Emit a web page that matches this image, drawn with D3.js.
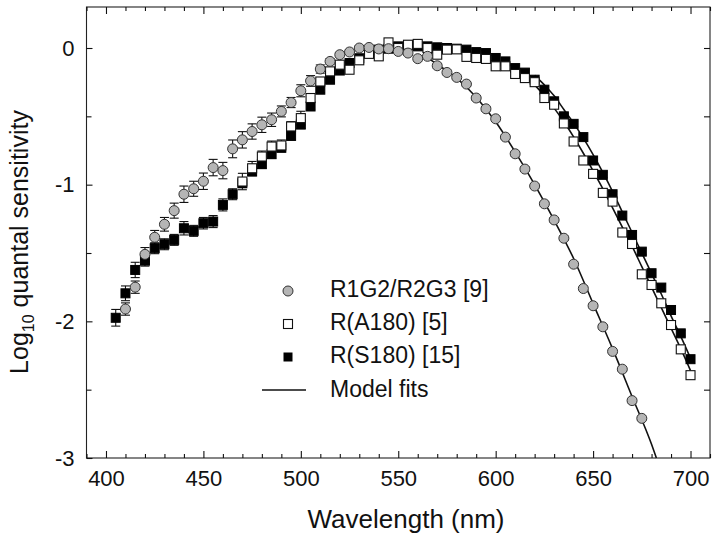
<!DOCTYPE html>
<html>
<head>
<meta charset="utf-8">
<script src="https://cdn.jsdelivr.net/npm/d3@7"></script>
<style>
  html, body { margin: 0; padding: 0; background: #fff; }
  svg { display: block; font-family: "Liberation Sans", Arial, Helvetica, sans-serif; }
</style>
</head>
<body>
<svg id="chart" width="720" height="543"></svg>
<script>
// ---------- DATA ----------
const circleWl = [410,415,420,425,430,435,440,445,450,455,460,465,470,475,480,485,490,495,500,505,510,515,520,525,530,535,540,545,550,555,560,565,570,575,580,585,590,595,600,605,610,615,620,625,630,635,640,645,650,655,660,665,670,675];
const circleVal = [-1.91,-1.75,-1.51,-1.385,-1.29,-1.19,-1.07,-1.03,-0.975,-0.875,-0.897,-0.738,-0.672,-0.611,-0.562,-0.525,-0.464,-0.399,-0.313,-0.241,-0.154,-0.098,-0.049,-0.029,0.0,0.004,-0.007,-0.005,-0.025,-0.037,-0.078,-0.061,-0.13,-0.179,-0.215,-0.264,-0.366,-0.445,-0.518,-0.652,-0.774,-0.886,-1.01,-1.14,-1.258,-1.392,-1.582,-1.76,-1.886,-2.04,-2.22,-2.35,-2.58,-2.71];
const circleErr = [0.045,0.045,0.05,0.05,0.05,0.055,0.06,0.055,0.06,0.06,0.06,0.065,0.06,0.056,0.056,0.049,0.04,0.037,0.044,0.039,0.03,0.02,0.015,0.015,0.015,0.015,0.015,0.015,0.015,0.015,0.015,0.015,0.015,0.015,0.015,0.015,0.015,0.015,0.015,0.015,0.015,0.015,0.015,0.015,0.015,0.015,0.015,0.015,0.015,0.015,0.015,0.015,0.015,0.015];

const openWl = [470,475,480,485,490,495,500,505,510,515,520,525,530,535,540,545,550,555,560,565,570,575,580,585,590,595,600,605,610,615,620,625,630,635,640,645,650,655,660,665,670,675,680,685,690,695,700];
const openVal = [-0.977,-0.88,-0.794,-0.721,-0.713,-0.574,-0.513,-0.366,-0.245,-0.171,-0.122,-0.159,-0.09,-0.043,-0.061,0.041,0.0,0.024,0.03,0.0,-0.049,-0.012,-0.01,-0.065,-0.073,-0.08,-0.134,-0.134,-0.19,-0.22,-0.25,-0.366,-0.415,-0.552,-0.684,-0.823,-0.921,-1.06,-1.124,-1.35,-1.434,-1.656,-1.734,-1.868,-2.027,-2.205,-2.394];
const openErr = [0.06,0.05,0.04,0.04,0.04,0.035,0.05,0.03,0.02,0.02,0.02,0.02,0.02,0.02,0.02,0.02,0.02,0.02,0.02,0.02,0.02,0.02,0.02,0.02,0.02,0.02,0.02,0.02,0.02,0.02,0.02,0.02,0.02,0.02,0.02,0.02,0.02,0.02,0.02,0.02,0.02,0.02,0.02,0.02,0.02,0.02,0.02];

const filledWl = [405,410,415,420,425,430,435,440,445,450,455,460,465,470,475,480,485,490,495,500,505,510,515,520,525,530,535,540,545,550,555,560,565,570,575,580,585,590,595,600,605,610,615,620,625,630,635,640,645,650,655,660,665,670,675,680,685,690,695,700];
const filledVal = [-1.974,-1.795,-1.624,-1.556,-1.465,-1.436,-1.404,-1.319,-1.338,-1.282,-1.27,-1.148,-1.07,-0.99,-0.904,-0.85,-0.777,-0.73,-0.643,-0.56,-0.428,-0.305,-0.232,-0.165,-0.11,-0.075,-0.03,-0.012,-0.005,0.012,0.02,0.012,0.012,0.005,0.0,-0.005,-0.012,-0.03,-0.037,-0.073,-0.098,-0.147,-0.18,-0.232,-0.305,-0.39,-0.5,-0.555,-0.652,-0.823,-0.928,-1.07,-1.226,-1.368,-1.49,-1.648,-1.753,-1.917,-2.088,-2.277];
const filledErr = [0.061,0.054,0.056,0.04,0.04,0.04,0.04,0.049,0.04,0.042,0.044,0.044,0.04,0.03,0.03,0.03,0.03,0.03,0.03,0.03,0.02,0.02,0.02,0.02,0.02,0.02,0.02,0.02,0.02,0.02,0.02,0.02,0.02,0.02,0.02,0.02,0.02,0.02,0.02,0.02,0.02,0.02,0.02,0.02,0.02,0.02,0.02,0.02,0.02,0.02,0.02,0.02,0.02,0.02,0.02,0.02,0.02,0.02,0.02,0.02];

// Model fit curves
const fitCircleWl  = [565,570,580,590,600,610,620,630,640,650,660,670,680,682.5];
const fitCircleVal = [-0.07,-0.12,-0.22,-0.36,-0.54,-0.76,-1.0,-1.26,-1.54,-1.87,-2.2,-2.55,-2.9,-3.0];
const fitOpenWl  = [615,620,625,630,635,640,645,650,655,660,665,670,675,680,685,690,695,700];
const fitOpenVal = [-0.2,-0.27,-0.35,-0.44,-0.54,-0.65,-0.77,-0.9,-1.03,-1.17,-1.31,-1.45,-1.6,-1.75,-1.9,-2.05,-2.2,-2.36];
const fitFilledWl  = [620,625,630,635,640,645,650,655,660,665,670,675,680,685,690,695,700];
const fitFilledVal = [-0.2,-0.27,-0.35,-0.45,-0.55,-0.66,-0.78,-0.91,-1.05,-1.2,-1.35,-1.5,-1.65,-1.8,-1.96,-2.11,-2.27];

const xMajorTicks = [400,450,500,550,600,650,700];
const yMajorTicks = [0,-1,-2,-3];
const legendLabels = ["R1G2/R2G3 [9]", "R(A180) [5]", "R(S180) [15]", "Model fits"];
const xTitle = "Wavelength (nm)";

// ---------- CHART ----------
const svg = d3.select("#chart");
const x = d3.scaleLinear().domain([390, 710]).range([86.5, 710]);
const y = d3.scaleLinear().domain([-3, 0.3]).range([458, 7]);
const [x0, x1] = x.range();
const [yb, yt] = y.range();

const ink = "#111";

// Frame
svg.append("rect").attr("x", x0).attr("y", yt).attr("width", x1 - x0).attr("height", yb - yt)
  .attr("fill", "none").attr("stroke", "#222").attr("stroke-width", 1.1);

function styleAxis(g) {
  g.select(".domain").remove();
  g.selectAll(".tick line").attr("stroke", ink).attr("stroke-width", 1.1);
  g.selectAll("text").attr("fill", ink);
}

const xMinorTicks = d3.range(390, 711, 10).filter(v => !xMajorTicks.includes(v));

// bottom
svg.append("g").attr("transform", `translate(0,${yb})`)
  .call(d3.axisBottom(x).tickValues(xMajorTicks).tickSize(-7).tickPadding(12).tickFormat(d3.format("d")))
  .call(styleAxis)
  .call(g => g.selectAll("text").attr("font-size", 22).attr("font-family", "Liberation Sans, Arial, sans-serif"));
svg.append("g").attr("transform", `translate(0,${yb})`)
  .call(d3.axisBottom(x).tickValues(xMinorTicks).tickSize(-4).tickFormat(""))
  .call(styleAxis);
// top
svg.append("g").attr("transform", `translate(0,${yt})`)
  .call(d3.axisTop(x).tickValues(xMajorTicks).tickSize(-7).tickFormat(""))
  .call(styleAxis);
svg.append("g").attr("transform", `translate(0,${yt})`)
  .call(d3.axisTop(x).tickValues(xMinorTicks).tickSize(-4).tickFormat(""))
  .call(styleAxis);
// left
svg.append("g").attr("transform", `translate(${x0},0)`)
  .call(d3.axisLeft(y).tickValues(yMajorTicks).tickSize(-6).tickPadding(12).tickFormat(d => d === 0 ? "0" : "-" + Math.abs(d)))
  .call(styleAxis)
  .call(g => g.selectAll("text").attr("font-size", 22).attr("font-family", "Liberation Sans, Arial, sans-serif"));
svg.append("g").attr("transform", `translate(${x0},0)`)
  .call(d3.axisLeft(y).tickValues([-0.5,-1.5,-2.5]).tickSize(-5).tickFormat(""))
  .call(styleAxis);
// right
svg.append("g").attr("transform", `translate(${x1},0)`)
  .call(d3.axisRight(y).tickValues([0,-0.5,-1,-1.5,-2,-2.5]).tickSize(-6).tickFormat(""))
  .call(styleAxis);

// Titles
svg.append("text").attr("x", 406).attr("y", 528).attr("text-anchor", "middle")
  .attr("font-size", 26).attr("fill", ink).text(xTitle);

const yt_ = svg.append("text").attr("transform", "translate(28,242) rotate(-90)")
  .attr("text-anchor", "middle").attr("font-size", 25).attr("fill", ink);
yt_.append("tspan").text("Log");
yt_.append("tspan").attr("font-size", 16).attr("dy", 6).text("10");
yt_.append("tspan").attr("dy", -6).text(" quantal sensitivity");

// Fit lines
const line = d3.line().x(d => x(d[0])).y(d => y(d[1])).curve(d3.curveMonotoneX);
const fits = [
  d3.zip(fitCircleWl, fitCircleVal),
  d3.zip(fitOpenWl, fitOpenVal),
  d3.zip(fitFilledWl, fitFilledVal)
];
svg.append("g").selectAll("path").data(fits).join("path")
  .attr("d", line).attr("fill", "none").attr("stroke", ink).attr("stroke-width", 1.6);

// Error bars
function errorBars(wl, val, err) {
  const g = svg.append("g").attr("stroke", ink).attr("stroke-width", 1.1);
  const data = d3.zip(wl, val, err);
  g.selectAll("line.v").data(data).join("line").attr("class", "v")
    .attr("x1", d => x(d[0])).attr("x2", d => x(d[0]))
    .attr("y1", d => y(d[1] + d[2])).attr("y2", d => y(d[1] - d[2]));
  g.selectAll("line.t").data(data).join("line").attr("class", "t")
    .attr("x1", d => x(d[0]) - 4.5).attr("x2", d => x(d[0]) + 4.5)
    .attr("y1", d => y(d[1] + d[2])).attr("y2", d => y(d[1] + d[2]));
  g.selectAll("line.b").data(data).join("line").attr("class", "b")
    .attr("x1", d => x(d[0]) - 4.5).attr("x2", d => x(d[0]) + 4.5)
    .attr("y1", d => y(d[1] - d[2])).attr("y2", d => y(d[1] - d[2]));
}
errorBars(filledWl, filledVal, filledErr);
errorBars(openWl, openVal, openErr);
errorBars(circleWl, circleVal, circleErr);

const sq = 9;
// Filled squares
svg.append("g").selectAll("rect").data(d3.zip(filledWl, filledVal)).join("rect")
  .attr("x", d => x(d[0]) - sq / 2).attr("y", d => y(d[1]) - sq / 2)
  .attr("width", sq).attr("height", sq).attr("fill", "#000").attr("stroke", "#000").attr("stroke-width", 1);
// Open squares
svg.append("g").selectAll("rect").data(d3.zip(openWl, openVal)).join("rect")
  .attr("x", d => x(d[0]) - sq / 2).attr("y", d => y(d[1]) - sq / 2)
  .attr("width", sq).attr("height", sq).attr("fill", "#fff").attr("stroke", "#111").attr("stroke-width", 1.1);
// Circles
svg.append("g").selectAll("circle").data(d3.zip(circleWl, circleVal)).join("circle")
  .attr("cx", d => x(d[0])).attr("cy", d => y(d[1])).attr("r", 5)
  .attr("fill", "#b5b5b5").attr("stroke", "#333").attr("stroke-width", 1);

// Legend
const lg = svg.append("g");
const lx = 288, tx = 330, baselines = [297, 330, 363, 397];
lg.append("circle").attr("cx", lx).attr("cy", baselines[0] - 6).attr("r", 5)
  .attr("fill", "#b5b5b5").attr("stroke", "#333");
lg.append("rect").attr("x", lx - sq / 2).attr("y", baselines[1] - 6 - sq / 2).attr("width", sq).attr("height", sq)
  .attr("fill", "#fff").attr("stroke", "#111").attr("stroke-width", 1.1);
lg.append("rect").attr("x", lx - sq / 2).attr("y", baselines[2] - 6 - sq / 2).attr("width", sq).attr("height", sq)
  .attr("fill", "#000");
lg.append("line").attr("x1", 262).attr("x2", 306).attr("y1", baselines[3] - 7).attr("y2", baselines[3] - 7)
  .attr("stroke", ink).attr("stroke-width", 1.6);
lg.selectAll("text").data(legendLabels).join("text")
  .attr("x", tx).attr("y", (d, i) => baselines[i]).attr("font-size", 23).attr("fill", ink).text(d => d);
</script>
</body>
</html>
